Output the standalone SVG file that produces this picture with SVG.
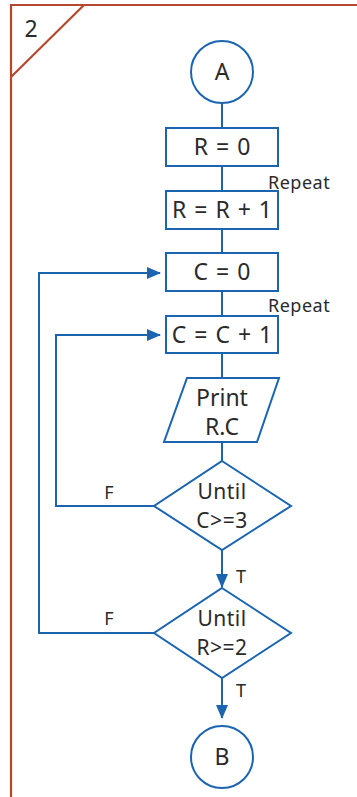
<svg xmlns="http://www.w3.org/2000/svg" width="357" height="797" viewBox="0 0 357 797">
<defs>
<style>
.frame{stroke:#b5472f;stroke-width:2.2;fill:none}
.shape{stroke:#1a64b0;stroke-width:2;fill:#fff}
.line{stroke:#1a64b0;stroke-width:2;fill:none}
.t{font-family:"Noto Sans","DejaVu Sans",sans-serif;fill:#2a2a2a;text-anchor:middle}
.big{font-size:23px;word-spacing:2px}
.dia{font-size:21px;letter-spacing:0.5px}
.small{font-size:18px;letter-spacing:0.5px;text-anchor:start}
.lbl{font-size:18px}
</style>
<marker id="arr" markerWidth="14" markerHeight="12" refX="13" refY="6" orient="auto" markerUnits="userSpaceOnUse">
<path d="M0,0 L14,6 L0,12 Z" fill="#1a64b0"/>
</marker>
</defs>
<rect width="357" height="797" fill="#fff"/>
<g id="frame">
<path class="frame" d="M11,797 L11,5 L357,5"/>
<path class="frame" d="M84,5 L11,77"/>
<text class="t" x="31" y="37" font-size="23" text-anchor="middle">2</text>
</g>
<g id="connectors">
<line class="line" x1="222" y1="103" x2="222" y2="128"/>
<line class="line" x1="222" y1="166" x2="222" y2="191"/>
<line class="line" x1="222" y1="229" x2="222" y2="253"/>
<line class="line" x1="222" y1="291" x2="222" y2="316"/>
<line class="line" x1="222" y1="353" x2="222" y2="378"/>
<line class="line" x1="222" y1="442" x2="222" y2="461"/>
<line class="line" x1="222" y1="550" x2="222" y2="587" marker-end="url(#arr)"/>
<line class="line" x1="222" y1="678" x2="222" y2="718" marker-end="url(#arr)"/>
<polyline class="line" points="154,506 56,506 56,335 160,335" marker-end="url(#arr)"/>
<polyline class="line" points="154,633 39,633 39,273 160,273" marker-end="url(#arr)"/>
<text class="t lbl" x="109" y="499">F</text>
<text class="t lbl" x="109" y="625">F</text>
<text class="t lbl" x="241" y="583">T</text>
<text class="t lbl" x="241" y="697">T</text>
<text class="t small" x="268" y="189">Repeat</text>
<text class="t small" x="268" y="312">Repeat</text>
</g>
<g id="nodeA">
<circle class="shape" cx="222" cy="72" r="31"/>
<text class="t big" x="222" y="80">A</text>
</g>
<g id="nodeR0">
<rect class="shape" x="166" y="128" width="112" height="38"/>
<text class="t big" x="222" y="155">R = 0</text>
</g>
<g id="nodeR1">
<rect class="shape" x="166" y="191" width="112" height="38"/>
<text class="t big" x="222" y="218">R = R + 1</text>
</g>
<g id="nodeC0">
<rect class="shape" x="166" y="253" width="112" height="38"/>
<text class="t big" x="222" y="280">C = 0</text>
</g>
<g id="nodeC1">
<rect class="shape" x="166" y="316" width="112" height="37"/>
<text class="t big" x="222" y="343">C = C + 1</text>
</g>
<g id="nodePrint">
<polygon class="shape" points="187,378 279,378 257,442 164,442"/>
<text class="t big" x="222" y="406">Print</text>
<text class="t big" x="222" y="435">R.C</text>
</g>
<g id="nodeD1">
<polygon class="shape" points="222,461 291,506 222,550 154,506"/>
<text class="t dia" x="222" y="499">Until</text>
<text class="t dia" x="222" y="528">C&gt;=3</text>
</g>
<g id="nodeD2">
<polygon class="shape" points="222,588 291,633 222,678 154,633"/>
<text class="t dia" x="222" y="626">Until</text>
<text class="t dia" x="222" y="655">R&gt;=2</text>
</g>
<g id="nodeB">
<circle class="shape" cx="222" cy="757" r="31"/>
<text class="t big" x="222" y="765">B</text>
</g>
</svg>
